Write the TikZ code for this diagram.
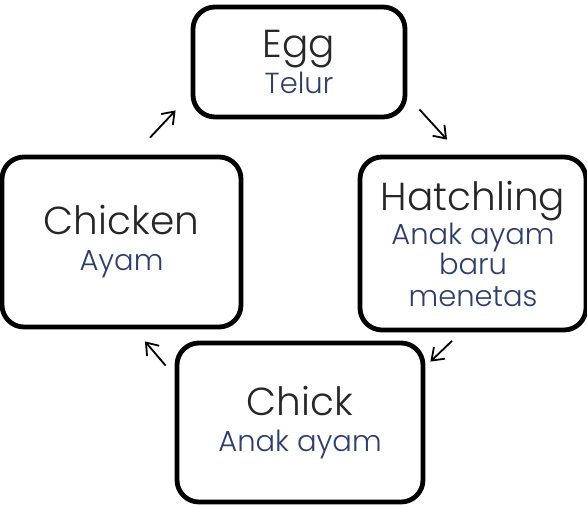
\documentclass[tikz,border=0pt]{standalone}
\usepackage{fontspec}
\setmainfont{Poppins Light}
\usetikzlibrary{arrows.meta}
\definecolor{maintext}{HTML}{262626}
\definecolor{subtext}{HTML}{2E3D6B}
\newcommand{\subtxt}[1]{{\color{subtext}\fontsize{29}{32}\selectfont #1}}
\begin{document}
\begin{tikzpicture}
\tikzset{stage/.style={draw, line width=4.8pt, rounded corners=22pt, align=center,
    text=maintext, font=\fontsize{39}{32}\selectfont, inner sep=0pt},
  cyc/.style={-{Straight Barb[length=11pt,width=16pt]}, line width=1.8pt}}
\useasboundingbox (0,0) rectangle (587pt,504pt);
\node[stage, minimum width=212pt, minimum height=110pt] (egg) at (299pt,442pt)
    {Egg\\[4pt]\subtxt{Telur}};
\node[stage, minimum width=239pt, minimum height=170pt] (chicken) at (121.5pt,262pt)
    {Chicken\\[4pt]\subtxt{Ayam}};
\node[stage, minimum width=226pt, minimum height=173pt] (hatch) at (473pt,260.5pt)
    {Hatchling\\[2pt]\subtxt{Anak ayam}\\[-2pt]\subtxt{baru}\\\subtxt{menetas}};
\node[stage, minimum width=246pt, minimum height=159pt] (chick) at (300pt,81.5pt)
    {Chick\\[4pt]\subtxt{Anak ayam}};
\draw[cyc] ([shift={(28.5pt,17pt)}]chicken.north) -- ([shift={(-15pt,9pt)}]egg.south west);
\draw[cyc] ([shift={(12pt,10pt)}]egg.south east) -- ([shift={(-26pt,15pt)}]hatch.north);
\draw[cyc] ([shift={(-21pt,-8.5pt)}]hatch.south) -- ([shift={(5pt,-21pt)}]chick.north east);
\draw[cyc] ([shift={(-9pt,-25pt)}]chick.north west) -- ([shift={(23.5pt,-12pt)}]chicken.south);
\end{tikzpicture}
\end{document}
